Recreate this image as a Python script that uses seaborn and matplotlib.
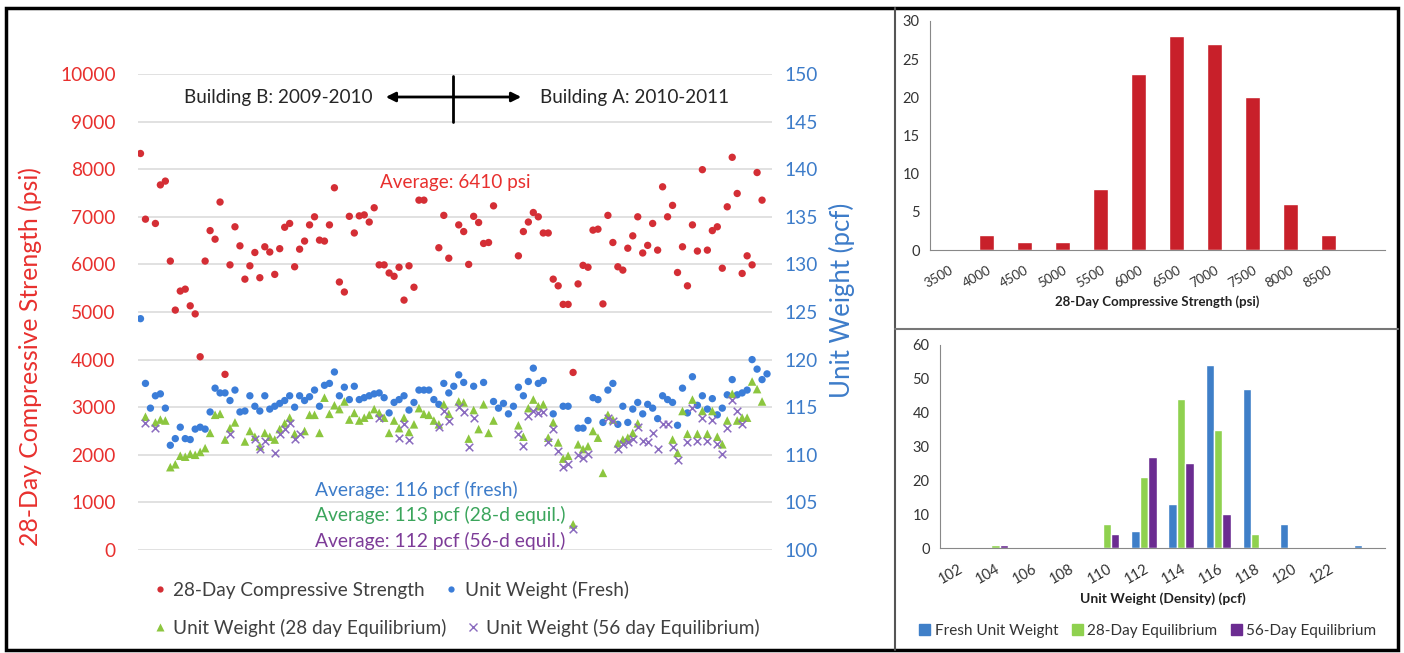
import numpy as np
import pandas as pd
import matplotlib
matplotlib.use("Agg")
import matplotlib.pyplot as plt
from matplotlib.lines import Line2D
from matplotlib.patches import Rectangle
import seaborn as sns

# ---- left panel: sample number vs. measured value ----
strength_n = [0, 1, 3, 4, 5, 6, 7, 8, 9, 10, 11, 12, 13, 14, 15, 16, 17, 18, 19, 20,
              21, 22, 23, 24, 25, 26, 27, 28, 29, 30, 31, 32, 33, 34, 35, 36, 37, 38, 39, 40,
              41, 42, 43, 44, 45, 46, 47, 48, 49, 50, 51, 52, 53, 54, 55, 56, 57, 60, 61, 62,
              64, 65, 66, 67, 68, 69, 70, 71, 76, 77, 78, 79, 80, 81, 82, 83, 84, 85, 86, 87,
              88, 89, 90, 91, 92, 93, 94, 95, 96, 97, 98, 99, 100, 101, 102, 103, 104, 105, 106, 107,
              108, 109, 110, 111, 112, 113, 114, 115, 116, 117, 118, 119, 120, 121, 122, 123, 124, 125]
strength_psi = [8330, 6950, 6860, 7670, 7750, 6070, 5040, 5440, 5480, 5130, 4960, 4060, 6070, 6710, 6530, 7310, 3690, 5990, 6790, 6390,
                5690, 5970, 6250, 5720, 6370, 6260, 5790, 6330, 6780, 6860, 5950, 6320, 6490, 6830, 7000, 6510, 6490, 6830, 7610, 5630,
                5420, 7010, 6660, 7020, 7040, 6890, 7190, 5990, 5990, 5820, 5750, 5940, 5250, 5970, 5520, 7350, 7350, 6350, 7030, 6130,
                6830, 6690, 6000, 7010, 6880, 6440, 6460, 7230, 6180, 6690, 6890, 7090, 7000, 6660, 6660, 5690, 5550, 5160, 5160, 3730,
                5590, 5980, 5940, 6720, 6740, 5170, 7030, 6460, 5950, 5880, 6340, 6600, 7000, 6240, 6400, 6860, 6300, 7630, 7000, 7240,
                5830, 6370, 5550, 6830, 6280, 7990, 6300, 6710, 6790, 5920, 7210, 8250, 7490, 5810, 6180, 5990, 7930, 7350]

fresh_n = [0, 1, 2, 3, 4, 5, 6, 7, 8, 9, 10, 11, 12, 13, 14, 15, 16, 17, 18, 19,
           20, 21, 22, 23, 24, 25, 26, 27, 28, 29, 30, 31, 32, 33, 34, 35, 36, 37, 38, 39,
           40, 41, 42, 43, 44, 45, 46, 47, 48, 49, 50, 51, 52, 53, 54, 55, 56, 57, 58, 59,
           60, 61, 62, 63, 64, 65, 67, 69, 71, 72, 73, 74, 75, 76, 77, 78, 79, 80, 81, 83,
           85, 86, 88, 89, 90, 91, 92, 93, 94, 95, 96, 97, 98, 99, 100, 101, 102, 103, 104, 105,
           106, 107, 108, 109, 110, 111, 112, 113, 114, 115, 116, 117, 118, 119, 120, 121, 122, 123, 124, 125, 126]
fresh_pcf = [124.3, 117.5, 114.9, 116.2, 116.4, 114.9, 111.0, 111.7, 112.9, 111.7, 111.6, 112.7, 112.9, 112.7, 114.5, 117.0, 116.5, 116.5, 115.7, 116.8,
             114.5, 114.6, 116.2, 115.1, 114.6, 116.2, 114.8, 115.1, 115.4, 115.7, 116.2, 115.0, 116.2, 115.7, 116.1, 116.8, 115.1, 117.3, 117.5, 118.7,
             116.2, 117.1, 115.8, 117.2, 115.8, 116.0, 116.2, 116.4, 116.5, 116.0, 114.4, 115.5, 115.8, 116.2, 114.7, 115.5, 116.8, 116.8, 116.8, 115.8,
             115.3, 117.5, 116.5, 117.2, 118.4, 117.6, 117.2, 117.6, 115.6, 114.9, 115.4, 114.3, 115.1, 117.1, 116.2, 117.7, 119.1, 117.5, 117.8, 114.3,
             115.1, 115.1, 112.8, 112.8, 113.6, 116.0, 115.8, 113.4, 116.8, 117.5, 113.2, 115.1, 113.4, 114.8, 115.5, 114.3, 115.3, 114.9, 113.8, 116.2,
             115.8, 115.5, 113.1, 117.0, 114.4, 118.2, 115.2, 116.2, 114.8, 115.9, 114.2, 114.9, 116.3, 117.9, 116.3, 116.5, 116.8, 120.0, 119.0, 117.9, 118.5]

eq28_n = [1, 3, 4, 5, 6, 7, 8, 9, 10, 11, 12, 13, 14, 15, 16, 17, 18, 19, 21, 22,
          23, 24, 25, 26, 27, 28, 29, 30, 31, 33, 34, 35, 36, 37, 38, 39, 40, 41, 42, 43,
          44, 45, 46, 47, 48, 49, 50, 51, 52, 53, 54, 55, 56, 57, 58, 59, 60, 61, 62, 64,
          65, 66, 67, 68, 69, 70, 71, 76, 77, 78, 79, 80, 81, 82, 83, 84, 85, 86, 87, 88,
          89, 90, 91, 92, 93, 94, 95, 96, 97, 98, 99, 100, 107, 108, 109, 110, 111, 112, 113, 114,
          115, 116, 117, 118, 119, 120, 121, 122, 123, 124, 125]
eq28_pcf = [114.0, 113.4, 113.7, 113.6, 108.7, 109.0, 109.9, 109.8, 110.1, 110.0, 110.3, 110.7, 112.3, 114.2, 114.3, 111.6, 112.8, 113.4, 111.4, 112.5,
            111.9, 110.9, 112.3, 111.9, 111.6, 112.7, 113.3, 113.9, 112.2, 112.5, 114.2, 114.2, 112.3, 116.0, 114.3, 115.2, 114.8, 115.6, 113.7, 114.4,
            113.6, 113.9, 114.2, 114.8, 114.4, 113.9, 112.3, 113.6, 112.8, 113.9, 112.4, 113.2, 114.9, 114.3, 114.2, 113.6, 113.2, 115.3, 114.3, 115.6,
            115.5, 111.7, 114.7, 112.7, 115.3, 112.3, 113.6, 113.1, 111.9, 114.9, 115.8, 115.1, 115.3, 111.8, 113.4, 111.3, 109.6, 109.9, 102.7, 111.1,
            110.6, 110.9, 112.5, 111.8, 108.1, 114.2, 113.7, 111.2, 111.6, 111.8, 112.3, 113.3, 111.6, 110.2, 114.6, 112.2, 115.8, 112.2, 114.6, 112.2,
            114.6, 111.9, 111.1, 113.6, 116.4, 113.6, 113.9, 113.9, 117.7, 116.9, 115.6]

eq56_n = [1, 3, 18, 23, 24, 25, 27, 28, 29, 30, 31, 32, 48, 52, 53, 54, 60, 61, 62, 64,
          65, 66, 67, 76, 77, 78, 79, 80, 81, 82, 83, 84, 85, 86, 87, 88, 89, 90, 94, 95,
          96, 97, 98, 99, 100, 101, 102, 103, 104, 105, 106, 107, 108, 110, 111, 112, 113, 114, 115, 116,
          117, 118, 119, 120, 121]
eq56_pcf = [113.3, 112.8, 112.2, 111.7, 110.6, 111.5, 110.2, 112.2, 112.7, 113.3, 111.7, 112.2, 113.9, 111.8, 113.2, 111.6, 112.9, 114.6, 113.6, 115.0,
            114.5, 110.8, 113.9, 112.2, 110.9, 114.1, 114.6, 114.4, 114.5, 111.3, 112.7, 110.4, 108.7, 109.0, 102.2, 110.0, 109.7, 110.1, 113.9, 113.6,
            110.6, 111.1, 111.3, 111.7, 112.9, 111.5, 111.3, 112.3, 110.6, 113.2, 113.2, 110.8, 109.5, 111.3, 114.9, 111.5, 113.9, 111.5, 113.7, 111.1,
            110.1, 112.8, 115.8, 114.6, 113.2]

# ---- right panels: histograms ----
psi_bins = ["3500", "4000", "4500", "5000", "5500", "6000", "6500", "7000", "7500", "8000", "8500", "More"]
psi_counts = [0, 2, 1, 1, 8, 23, 28, 27, 20, 6, 2, 0]

pcf_bins = ["102", "104", "106", "108", "110", "112", "114", "116", "118", "120", "122", "More"]
fresh_counts = [0, 0, 0, 0, 0, 5, 13, 54, 47, 7, 0, 1]
eq28_counts = [0, 1, 0, 0, 7, 21, 44, 35, 4, 0, 0, 0]
eq56_counts = [0, 1, 0, 0, 4, 27, 25, 10, 0, 0, 0, 0]

RED = "#d42e35"
RED_TXT = "#e8302e"
BLUE = "#3b7dd8"
BLUE_TXT = "#3d7cc9"
GREEN = "#8cc63f"
GREEN_TXT = "#3ba55c"
PURPLE = "#8a6bbf"
PURPLE_TXT = "#7d3c98"

sns.set_style("white")
plt.rcParams["font.family"] = ["Lato", "DejaVu Sans"]

W, H = 1404, 653
fig = plt.figure(figsize=(W / 100, H / 100), dpi=100)


def fx(px):
    return px / W


def fy(py):
    return 1 - py / H


# ---------- left scatter ----------
ax = fig.add_axes([fx(138), fy(550), fx(772) - fx(138), fy(74) - fy(550)])
ax2 = ax.twinx()

sns.scatterplot(x=strength_n, y=strength_psi, ax=ax, color=RED, marker="o", s=28,
                edgecolor="none", zorder=3, legend=False)
sns.scatterplot(x=fresh_n, y=fresh_pcf, ax=ax2, color=BLUE, marker="o", s=28,
                edgecolor="none", zorder=3, legend=False)
sns.scatterplot(x=eq28_n, y=eq28_pcf, ax=ax2, color=GREEN, marker="^", s=38,
                edgecolor="none", zorder=4, legend=False)
sns.scatterplot(x=eq56_n, y=eq56_pcf, ax=ax2, color=PURPLE, marker="x", s=30,
                linewidth=1.1, zorder=5, legend=False)

ax.set_xlim(-0.5, 127)
ax.set_ylim(0, 10000)
ax2.set_ylim(100, 150)
ax.set_yticks(np.arange(0, 10001, 1000))
ax2.set_yticks(np.arange(100, 151, 5))
ax.set_xticks([])
ax.grid(axis="y", color="#dcdcdc", lw=1.2)
for a in (ax, ax2):
    for sp in a.spines.values():
        sp.set_visible(False)
    a.set_xlabel("")
    a.set_ylabel("")
ax.tick_params(axis="y", length=0, pad=16, labelsize=13.8, labelcolor=RED_TXT)
ax2.tick_params(axis="y", length=0, pad=9, labelsize=13.8, labelcolor=BLUE_TXT)

fig.text(fx(30), fy(357), "28-Day Compressive Strength (psi)", rotation=90,
         ha="center", va="center", fontsize=17.8, color=RED_TXT)
fig.text(fx(842), fy(300), "Unit Weight (pcf)", rotation=90,
         ha="center", va="center", fontsize=18.5, color=BLUE_TXT)

fig.text(fx(455), fy(182), "Average: 6410 psi", ha="center", va="center",
         fontsize=13.6, color=RED_TXT)
fig.text(fx(315), fy(490), "Average: 116 pcf (fresh)", ha="left", va="center",
         fontsize=13.9, color=BLUE_TXT)
fig.text(fx(315), fy(515), "Average: 113 pcf (28-d equil.)", ha="left", va="center",
         fontsize=13.9, color=GREEN_TXT)
fig.text(fx(315), fy(541), "Average: 112 pcf (56-d equil.)", ha="left", va="center",
         fontsize=13.9, color=PURPLE_TXT)

fig.text(fx(372), fy(97), "Building B: 2009-2010", ha="right", va="center", fontsize=13.6)
fig.text(fx(540), fy(97), "Building A: 2010-2011", ha="left", va="center", fontsize=13.6)
fig.add_artist(matplotlib.patches.FancyArrowPatch((fx(383), fy(97)), (fx(524), fy(97)),
                                                  transform=fig.transFigure, arrowstyle="<|-|>",
                                                  mutation_scale=14, lw=2, color="black"))
fig.add_artist(Line2D([fx(453), fx(453)], [fy(76), fy(122)], transform=fig.transFigure,
                      color="black", lw=2))

row1 = [Line2D([], [], ls="none", marker="o", ms=4.5, color=RED, mec="none"),
        Line2D([], [], ls="none", marker="o", ms=4.5, color=BLUE, mec="none")]
row2 = [Line2D([], [], ls="none", marker="^", ms=5.5, color=GREEN, mec="none"),
        Line2D([], [], ls="none", marker="x", ms=6, color=PURPLE, mew=1)]
for handles, labels, ypx in [(row1, ["28-Day Compressive Strength", "Unit Weight (Fresh)"], 590),
                             (row2, ["Unit Weight (28 day Equilibrium)", "Unit Weight (56 day Equilibrium)"], 628)]:
    leg = fig.legend(handles, labels, loc="center left", bbox_to_anchor=(fx(154), fy(ypx)),
                     ncol=2, frameon=False, fontsize=13.7, handlelength=0.6, handletextpad=0.4,
                     columnspacing=1.1, borderaxespad=0, borderpad=0)
    for t in leg.get_texts():
        t.set_color("#404040")

# ---------- top right histogram ----------
axh = fig.add_axes([fx(930), fy(250), fx(1385) - fx(930), fy(21) - fy(250)])
df_psi = pd.DataFrame({"bin": psi_bins, "count": psi_counts})
sns.barplot(data=df_psi, x="bin", y="count", order=psi_bins, color="#c8202a",
            saturation=1, width=0.4, ax=axh)
axh.set_xlim(-0.5, len(psi_bins) - 0.5)
axh.set_ylim(0, 30)
axh.set_yticks(range(0, 31, 5))
axh.set_xticks(range(len(psi_bins)))
axh.set_xticklabels(psi_bins[:-1] + [""], rotation=30, ha="right", rotation_mode="anchor")
axh.set_xticks(np.arange(-0.5, len(psi_bins), 1), minor=True)
axh.tick_params(axis="x", which="major", length=0, pad=10, labelsize=9.5, labelcolor="#333333")
axh.tick_params(axis="x", which="minor", length=5, color="#888888", width=1)
axh.tick_params(axis="y", length=4, color="#888888", labelsize=10.5, labelcolor="#333333")
axh.set_xlabel("28-Day Compressive Strength (psi)", fontsize=9.5, fontweight="bold",
               color="#222222", labelpad=4)
axh.set_ylabel("")
for side in ("top", "right"):
    axh.spines[side].set_visible(False)
for side in ("left", "bottom"):
    axh.spines[side].set_color("#888888")

# ---------- bottom right grouped histogram ----------
axb = fig.add_axes([fx(940), fy(548), fx(1385) - fx(940), fy(345) - fy(548)])
df_pcf = pd.DataFrame({
    "bin": pcf_bins * 3,
    "count": fresh_counts + eq28_counts + eq56_counts,
    "series": ["Fresh Unit Weight"] * 12 + ["28-Day Equilibrium"] * 12 + ["56-Day Equilibrium"] * 12,
})
sns.barplot(data=df_pcf, x="bin", y="count", hue="series", order=pcf_bins,
            palette=["#3f7fc8", "#8fd14f", "#6b2c91"], saturation=1, width=0.68, ax=axb)
axb.set_xlim(-0.5, len(pcf_bins) - 0.5)
axb.set_ylim(0, 60)
axb.set_yticks(range(0, 61, 10))
axb.set_xticks(range(len(pcf_bins)))
axb.set_xticklabels(pcf_bins[:-1] + [""], rotation=30, ha="right", rotation_mode="anchor")
axb.set_xticks(np.arange(-0.5, len(pcf_bins), 1), minor=True)
axb.tick_params(axis="x", which="major", length=0, pad=10, labelsize=10.5, labelcolor="#333333")
axb.tick_params(axis="x", which="minor", length=5, color="#888888", width=1)
axb.tick_params(axis="y", length=4, color="#888888", labelsize=10.5, labelcolor="#333333")
axb.set_xlabel("Unit Weight (Density) (pcf)", fontsize=10, fontweight="bold",
               color="#222222", labelpad=4)
axb.set_ylabel("")
for side in ("top", "right"):
    axb.spines[side].set_visible(False)
for side in ("left", "bottom"):
    axb.spines[side].set_color("#888888")
axb.legend_.remove()
bh = [Rectangle((0, 0), 1, 1, color=c) for c in ["#3f7fc8", "#8fd14f", "#6b2c91"]]
leg = fig.legend(bh, ["Fresh Unit Weight", "28-Day Equilibrium", "56-Day Equilibrium"],
                 loc="center", bbox_to_anchor=(fx(1148), fy(631)), ncol=3, frameon=False,
                 fontsize=11, handlelength=0.7, handleheight=0.7, handletextpad=0.3,
                 columnspacing=0.9, borderaxespad=0, borderpad=0)
for t in leg.get_texts():
    t.set_color("#333333")

# ---------- frames ----------
fig.add_artist(Rectangle((fx(6), fy(650)), fx(1398) - fx(6), fy(8) - fy(650),
                         transform=fig.transFigure, fill=False, ec="black", lw=2.5))
fig.add_artist(Line2D([fx(895), fx(895)], [fy(8), fy(650)], transform=fig.transFigure,
                      color="#555555", lw=1.5))
fig.add_artist(Line2D([fx(895), fx(1398)], [fy(329), fy(329)], transform=fig.transFigure,
                      color="#777777", lw=1.5))

fig.savefig("out.png", dpi=100)
